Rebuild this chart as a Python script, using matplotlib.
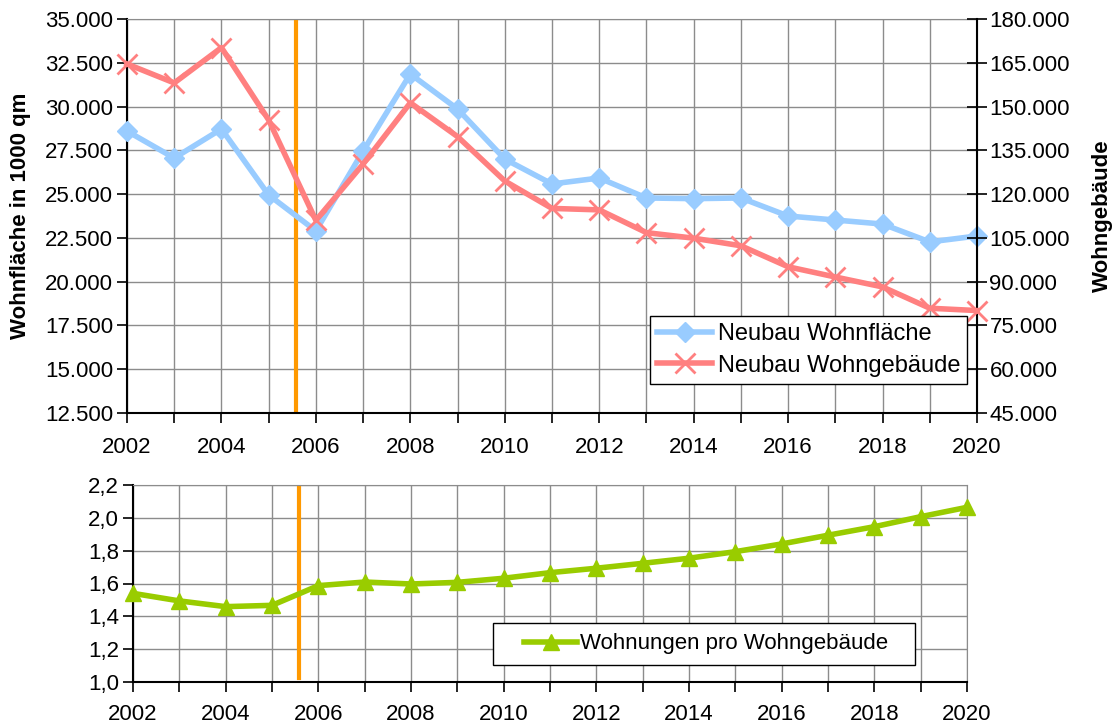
import matplotlib
matplotlib.use("Agg")
import matplotlib.pyplot as plt
from matplotlib.ticker import FuncFormatter, MultipleLocator
from matplotlib.patches import Rectangle

plt.rcParams['font.family'] = ['Liberation Sans', 'DejaVu Sans']

years = list(range(2002, 2021))
wohnflaeche = [28600, 27060, 28720, 24950, 22900, 27460, 31860, 29860, 27000,
               25580, 25920, 24780, 24740, 24780, 23750, 23520, 23290, 22270, 22610]
wohngebaeude = [164600, 158100, 170200, 145400, 111000, 130300, 151300, 139700, 124500,
                115100, 114600, 106800, 104900, 102300, 95100, 91600, 88200, 80900, 80100]
wohnungen_pro_geb = [1.54, 1.494, 1.459, 1.467, 1.587, 1.609, 1.597, 1.607, 1.632, 1.666,
                     1.693, 1.723, 1.754, 1.794, 1.841, 1.894, 1.946, 2.007, 2.064]
marker_year = 2005.58

blue = '#99CCFF'
red = '#FF8080'
green = '#99CC00'
orange = '#FF9900'
gridc = '#8C8C8C'
fs = 16

fig = plt.figure(figsize=(11.17, 7.24), dpi=100)

def dot_fmt(v, pos):
    return f"{int(round(v)):,}".replace(",", ".")

def comma_fmt(v, pos):
    return f"{v:.1f}".replace(".", ",")

# ---- top chart
ax = fig.add_axes([127/1117, 1-413/724, 850/1117, 394/724])
ax2 = ax.twinx()
ax.set_zorder(ax2.get_zorder() - 1)
ax.patch.set_visible(True)
ax2.patch.set_visible(False)

ax.set_xlim(2002, 2020)
ax.set_ylim(12500, 35000)
ax2.set_ylim(45000, 180000)
ax.set_xticks(years)
ax.set_xticklabels([str(y) if y % 2 == 0 else '' for y in years])
ax.yaxis.set_major_locator(MultipleLocator(2500))
ax2.yaxis.set_major_locator(MultipleLocator(15000))
ax.yaxis.set_major_formatter(FuncFormatter(dot_fmt))
ax2.yaxis.set_major_formatter(FuncFormatter(dot_fmt))
ax.grid(True, color=gridc, lw=1)
ax.set_axisbelow(True)

for s in ['top', 'right']:
    ax.spines[s].set_color(gridc)
for s in ['left', 'bottom']:
    ax.spines[s].set_linewidth(1.5)
ax2.spines['right'].set_linewidth(1.5)
ax2.spines['top'].set_visible(False)
ax2.spines['left'].set_visible(False)
ax2.spines['bottom'].set_visible(False)

ax.tick_params(axis='both', labelsize=fs, direction='out', length=7, width=1.2)
ax.tick_params(axis='x', pad=10)
ax.tick_params(axis='y', pad=3)
ax2.tick_params(axis='y', labelsize=fs, direction='inout', length=14, width=1.2, pad=2)

ax.axvline(marker_year, ymin=0.008, ymax=0.992, color=orange, lw=3, zorder=1)

lb, = ax.plot(years, wohnflaeche, color=blue, lw=4, marker='D', ms=10,
              clip_on=False, zorder=3, label='Neubau Wohnfläche')
lr, = ax2.plot(years, wohngebaeude, color=red, lw=4, marker='x', ms=14, mew=2,
               clip_on=False, zorder=3, label='Neubau Wohngebäude')

ax.set_ylabel('Wohnfläche in 1000 qm', fontsize=fs, fontweight='bold', labelpad=10)
ax2.set_ylabel('Wohngebäude', fontsize=fs, fontweight='bold', labelpad=16)

leg = ax2.legend(handles=[lb, lr], loc='lower right', bbox_to_anchor=(0.9885, 0.074),
                 fontsize=17, frameon=True, fancybox=False, framealpha=1,
                 edgecolor='black', borderaxespad=0, handlelength=2.3,
                 handletextpad=0.25, borderpad=0.3, labelspacing=0.4)
leg.get_frame().set_linewidth(1)

# ---- bottom chart
bx = fig.add_axes([133/1117, 1-682/724, 834/1117, 197/724])
bx.set_xlim(2002, 2020)
bx.set_ylim(1.0, 2.2)
bx.set_xticks(years)
bx.set_xticklabels([str(y) if y % 2 == 0 else '' for y in years])
bx.yaxis.set_major_locator(MultipleLocator(0.2))
bx.yaxis.set_major_formatter(FuncFormatter(comma_fmt))
bx.grid(True, color=gridc, lw=1)
bx.set_axisbelow(True)
for s in ['top', 'right']:
    bx.spines[s].set_color(gridc)
for s in ['left', 'bottom']:
    bx.spines[s].set_linewidth(1.5)
bx.tick_params(axis='both', labelsize=fs, direction='out', length=7, width=1.2)
bx.tick_params(axis='x', pad=9)
bx.tick_params(axis='y', pad=3)

bx.axvline(marker_year, ymin=0.02, ymax=0.99, color=orange, lw=3, zorder=1)
lg, = bx.plot(years, wohnungen_pro_geb, color=green, lw=4, marker='^', ms=11,
              clip_on=False, zorder=3, label='Wohnungen pro Wohngebäude')

# legend frame (wider horizontal padding than vertical, as in the original)
bx.add_patch(Rectangle((0.4317, 0.0863), 0.5059, 0.2132, transform=bx.transAxes,
                       facecolor='white', edgecolor='black', lw=1, zorder=4.5))
leg2 = bx.legend(handles=[lg], loc='center', bbox_to_anchor=(0.687, 0.193),
                 fontsize=16, frameon=False, borderaxespad=0, handlelength=2.4,
                 handletextpad=0.1, borderpad=0.0)
leg2.set_zorder(5)

fig.savefig('out.png', dpi=100)
